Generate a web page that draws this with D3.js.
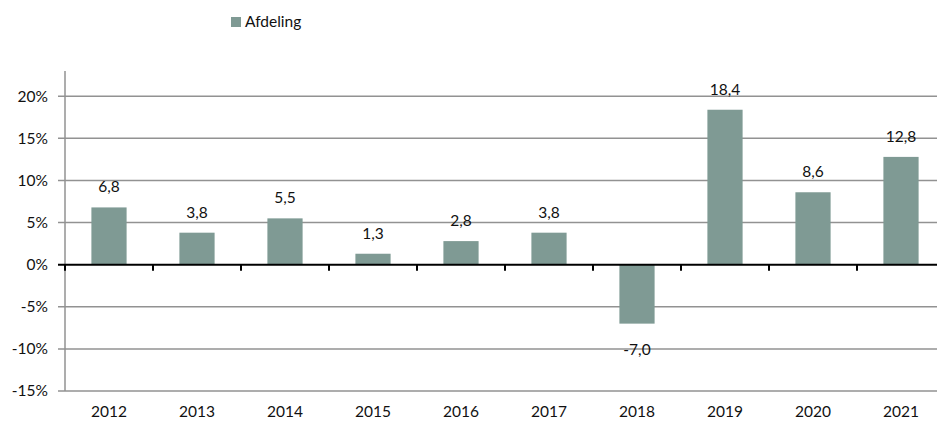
<!DOCTYPE html>
<html>
<head>
<meta charset="utf-8">
<script src="https://cdn.jsdelivr.net/npm/d3@7"></script>
<style>
  body { margin: 0; background: #fff; }
  svg { font-family: Lato, "Open Sans", sans-serif; }
</style>
</head>
<body>
<svg id="chart" width="937" height="423"></svg>
<script>
const years = ["2012", "2013", "2014", "2015", "2016", "2017", "2018", "2019", "2020", "2021"];
const afdeling = [6.8, 3.8, 5.5, 1.3, 2.8, 3.8, -7.0, 18.4, 8.6, 12.8];
const yTicks = [-15, -10, -5, 0, 5, 10, 15, 20];
const seriesName = "Afdeling";

const barColor = "#7f9a94";
const svg = d3.select("#chart");

// plot area
const plotLeft = 65, plotRight = 945, plotTop = 71, plotBottom = 391;

const x = d3.scaleBand().domain(years).range([plotLeft, plotRight]).paddingInner(0.6).paddingOuter(0.3);
const xTick = d3.scaleBand().domain(years).range([plotLeft, plotRight]);
const y = d3.scaleLinear().domain([-15, 23]).range([plotBottom, plotTop]);

const fmt = v => v.toFixed(1).replace(".", ",");
const fs = 15.5;

// gridlines
svg.append("g")
  .selectAll("line")
  .data(yTicks.filter(d => d !== 0))
  .join("line")
  .attr("x1", plotLeft - 7).attr("x2", 937)
  .attr("y1", d => y(d)).attr("y2", d => y(d))
  .attr("stroke", "#929292").attr("stroke-width", 1.5);

// y axis line
svg.append("line")
  .attr("x1", plotLeft).attr("x2", plotLeft)
  .attr("y1", plotTop).attr("y2", plotBottom)
  .attr("stroke", "#929292").attr("stroke-width", 1.5);

// y tick labels
svg.append("g")
  .selectAll("text")
  .data(yTicks)
  .join("text")
  .attr("x", 48).attr("y", d => y(d))
  .attr("dy", "0.35em")
  .attr("text-anchor", "end")
  .attr("font-size", fs)
  .attr("fill", "#111")
  .text(d => d + "%");

// bars
svg.append("g")
  .selectAll("rect")
  .data(afdeling)
  .join("rect")
  .attr("x", (d, i) => x(years[i]))
  .attr("width", x.bandwidth())
  .attr("y", d => y(Math.max(0, d)))
  .attr("height", d => Math.abs(y(d) - y(0)))
  .attr("fill", barColor);

// zero line + ticks
svg.append("line")
  .attr("x1", plotLeft - 7).attr("x2", 937)
  .attr("y1", y(0)).attr("y2", y(0))
  .attr("stroke", "#000").attr("stroke-width", 2);

svg.append("g")
  .selectAll("line")
  .data(years)
  .join("line")
  .attr("x1", d => xTick(d)).attr("x2", d => xTick(d))
  .attr("y1", y(0)).attr("y2", y(0) + 6)
  .attr("stroke", "#000").attr("stroke-width", 2);

// value labels
svg.append("g")
  .selectAll("text")
  .data(afdeling)
  .join("text")
  .attr("x", (d, i) => x(years[i]) + x.bandwidth() / 2)
  .attr("y", d => d >= 0 ? y(d) - 15 : y(d) + 31)
  .attr("text-anchor", "middle")
  .attr("font-size", fs)
  .attr("fill", "#111")
  .text(fmt);

// x labels
svg.append("g")
  .selectAll("text")
  .data(years)
  .join("text")
  .attr("x", d => xTick(d) + xTick.bandwidth() / 2)
  .attr("y", 417)
  .attr("text-anchor", "middle")
  .attr("font-size", fs)
  .attr("fill", "#111")
  .text(d => d);

// legend
const legend = svg.append("g").attr("transform", "translate(231,17)");
legend.append("rect").attr("width", 10).attr("height", 10).attr("fill", barColor);
legend.append("text").attr("x", 14).attr("y", 5).attr("dy", "0.35em")
  .attr("font-size", fs).attr("fill", "#111").text(seriesName);
</script>
</body>
</html>
